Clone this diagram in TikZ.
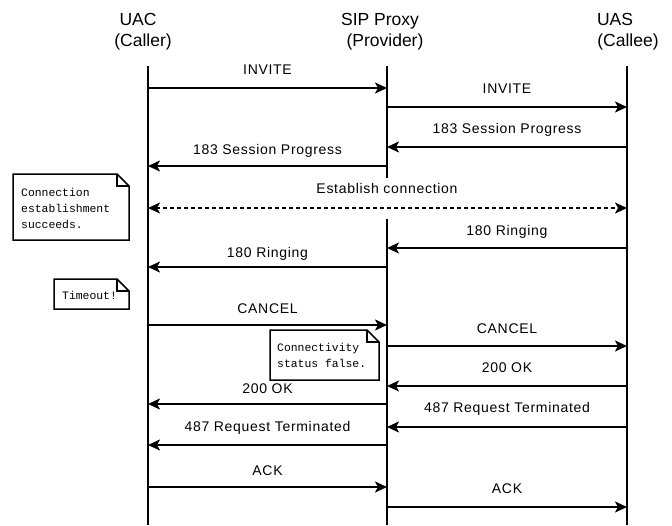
\documentclass[tikz,border=0pt]{standalone}
\usepackage{fontspec}
\setmainfont{Liberation Sans}
\newfontfamily\lblfont{Liberation Sans}[LetterSpace=5]
\newfontfamily\notefont{Liberation Mono}
\usetikzlibrary{arrows.meta}
\tikzset{
  life/.style={line width=2pt},
  msg/.style={line width=2pt,-{Stealth[length=12pt,width=11pt,inset=3pt]}},
  dmsg/.style={line width=2pt,dash pattern=on 4pt off 3pt,{Stealth[length=12pt,width=11pt,inset=3pt]}-{Stealth[length=12pt,width=11pt,inset=3pt]}},
  lbl/.style={anchor=base,inner sep=0pt,font=\lblfont\fontsize{14}{16}\selectfont},
  head/.style={anchor=base,inner sep=0pt,font=\fontsize{17.5}{20}\selectfont},
  note/.style={draw,fill=white,line width=1.5pt},
  notetxt/.style={anchor=base west,inner sep=0pt,font=\notefont\fontsize{11.4}{15.8}\selectfont,align=left}
}
\begin{document}
\begin{tikzpicture}[x=1pt,y=-1pt]
\useasboundingbox (0,0) rectangle (672,525);
% headers
\node[head] (h1) at (138,25) {UAC};
\node[head] (h1b) at (143,46) {(Caller)};
\node[head] (h2) at (380,25) {SIP Proxy};
\node[head] (h2b) at (385,46) {(Provider)};
\node[head] (h3) at (615,25) {UAS};
\node[head] (h3b) at (628,46) {(Callee)};
% lifelines
\coordinate (Lt) at (148,66); \coordinate (Lb) at (148,525);
\coordinate (Mt) at (387,66); \coordinate (Mg1) at (387,178);
\coordinate (Mg2) at (387,219); \coordinate (Mb) at (387,525);
\coordinate (Rt) at (627,66); \coordinate (Rb) at (627,525);
\draw[life] (Lt) -- (Lb);
\draw[life] (Mt) -- (Mg1);
\draw[life] (Mg2) -- (Mb);
\draw[life] (Rt) -- (Rb);
% messages: index/from/to/arrow y/label baseline/label
\foreach \i/\fx/\tx/\ay/\by/\t in {
  1/148/387/88/74/INVITE,
  2/387/627/107/93/INVITE,
  3/627/387/147/133/183 Session Progress,
  4/387/148/166/154/183 Session Progress,
  6/627/387/248/235/180 Ringing,
  7/387/148/267/257/180 Ringing,
  8/148/387/325/313/CANCEL,
  9/387/627/346/333/CANCEL,
  10/627/387/386/372/200 OK,
  11/387/148/404/393/200 OK,
  12/627/387/427/412/487 Request Terminated,
  13/387/148/445/431/487 Request Terminated,
  14/148/387/487/475/ACK,
  15/387/627/507/493/ACK}{
  \coordinate (s\i) at (\fx,\ay);
  \coordinate (e\i) at (\tx,\ay);
  \draw[msg] (s\i) -- (e\i);
  \node[lbl] (t\i) at ({(\fx+\tx)/2},\by) {\t};
}
% establish connection
\coordinate (s5) at (148,208);
\coordinate (e5) at (627,208);
\draw[dmsg] (s5) -- (e5);
\node[lbl] (t5) at (387,193) {Establish connection};
% notes
\draw[note] (13,174) -- (117,174) -- (129,186) -- (129,240) -- (13,240) -- cycle;
\draw[line width=1.5pt] (117,174) -- (117,186) -- (129,186);
\node[notetxt] (n1) at (21,228) {Connection\\establishment\\succeeds.};
\draw[note] (54,279) -- (117,279) -- (129,291) -- (129,309) -- (54,309) -- cycle;
\draw[line width=1.5pt] (117,279) -- (117,291) -- (129,291);
\node[notetxt] (n2) at (62,299) {Timeout!};
\draw[note] (270,330) -- (367,330) -- (379,342) -- (379,380) -- (270,380) -- cycle;
\draw[line width=1.5pt] (367,330) -- (367,342) -- (379,342);
\node[notetxt] (n3) at (277,367) {Connectivity\\status false.};
\end{tikzpicture}
\end{document}
